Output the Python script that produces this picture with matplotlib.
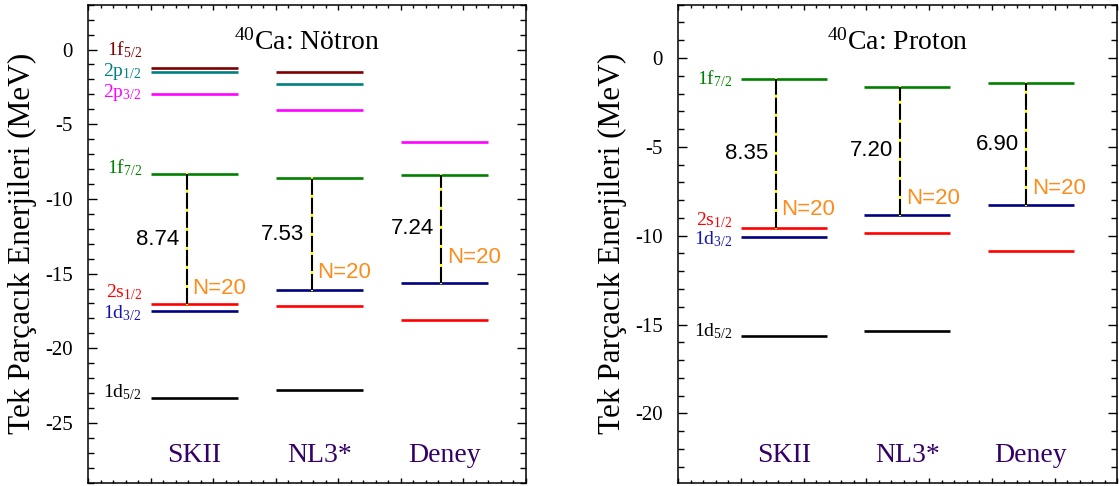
import numpy as np
import matplotlib.pyplot as plt
from matplotlib.ticker import MultipleLocator
import matplotlib.transforms as mtransforms

plt.rcParams['font.family'] = ['Liberation Serif', 'DejaVu Serif']
plt.rcParams['mathtext.fontset'] = 'custom'
plt.rcParams['mathtext.rm'] = 'Liberation Serif'
plt.rcParams['mathtext.it'] = 'Liberation Serif:italic'
plt.rcParams['axes.unicode_minus'] = False

nan = np.nan

models = ['SKII', 'NL3*', 'Deney']
orbitals = ['1f_{5/2}', '2p_{1/2}', '2p_{3/2}', '1f_{7/2}', '2s_{1/2}', '1d_{3/2}', '1d_{5/2}']
level_colors = ['#800000', '#008080', '#ff00ff', '#008000', '#ff0000', '#000080', 'black']
label_colors = ['#800000', '#008080', '#ff00ff', '#008000', '#ff0000', '#1414b4', 'black']

# single-particle energies in MeV, same order as orbitals (nan = not shown)
n_skii = [-1.22, -1.53, -3.00, -8.32, -17.06, -17.50, -23.31]
n_nl3 = [-1.49, -2.33, -4.07, -8.60, -17.19, -16.13, -22.81]
n_deney = [nan, nan, -6.21, -8.38, -18.09, -15.62, nan]

p_skii = [nan, nan, nan, -1.20, -9.55, -10.07, -15.64]
p_nl3 = [nan, nan, nan, -1.62, -9.87, -8.82, -15.35]
p_deney = [nan, nan, nan, -1.39, -10.88, -8.29, nan]

yticks_n = [0, -5, -10, -15, -20, -25]
yticks_p = [0, -5, -10, -15, -20]

# layout for each panel
panels = [
    dict(levels=[n_skii, n_nl3, n_deney], title=r'$^{40}$Ca: Nötron', ylim=(-29, 3),
         yticks=yticks_n, starts=[1.0, 3.0, 5.0], width=1.4, gapx=[0.58, 0.58, 0.65],
         label_dy=[0.85, -0.24, -0.2, 0.0, 0.5, -0.5, 0.0], n20_dy=[0.66, 0.81, 1.35],
         rect=[88 / 1119, 1 - 482.7 / 486, 437.7 / 1119, 478 / 486]),
    dict(levels=[p_skii, p_nl3, p_deney], title=r'$^{40}$Ca: Proton', ylim=(-23.9, 3),
         yticks=yticks_p, starts=[1.0, 2.97, 4.94], width=1.37, gapx=[0.56, 0.57, 0.61],
         label_dy=[0, 0, 0, -0.3, 0.15, -0.4, 0.0], n20_dy=[0.72, 0.6, 0.62],
         rect=[678 / 1119, 1 - 482.7 / 486, 439.3 / 1119, 478 / 486]),
]

fig = plt.figure(figsize=(11.19, 4.86), dpi=100)

for p in panels:
    ax = fig.add_axes(p['rect'])
    ax.set_xlim(0, 7)
    ax.set_ylim(*p['ylim'])

    for m, (name, lev) in enumerate(zip(models, p['levels'])):
        x0 = p['starts'][m]
        x1 = x0 + p['width']
        for k, e in enumerate(lev):
            if np.isnan(e):
                continue
            ax.hlines(e, x0, x1, color=level_colors[k], lw=1.9)
            if m == 0:
                ax.text(0.86, e + p['label_dy'][k], r'$\mathrm{' + orbitals[k] + '}$',
                        color=label_colors[k], fontsize=14, ha='right', va='baseline')

        # N=20 shell gap: 1f7/2 down to the last filled level
        upper = lev[3]
        lower = max(lev[4], lev[5])
        gx = x0 + p['gapx'][m]
        ax.plot([gx, gx], [lower, upper], color='yellow', lw=1.5)
        ax.plot([gx, gx], [lower, upper], color='black', lw=1.5, dashes=(7.7, 1.44))
        ax.text(gx - 0.12, (upper + lower) / 2, '%.2f' % (upper - lower),
                family='Liberation Sans', fontsize=16, ha='right', va='center')
        ax.text(gx + 0.09, lower + p['n20_dy'][m], 'N=20', color='#ff8c1a',
                family='Liberation Sans', fontsize=16, ha='left', va='baseline')

        trans = mtransforms.blended_transform_factory(ax.transData, ax.transAxes)
        ax.text(x0 + p['width'] / 2, 0.056, name, transform=trans, color='#330066',
                fontsize=20, ha='center', va='center')

    ax.text(0.5, 0.907, p['title'], transform=ax.transAxes, ha='center',
            va='baseline', fontsize=20)

    ax.set_yticks(p['yticks'])
    ax.set_yticklabels([str(t) for t in p['yticks']])
    ax.yaxis.set_minor_locator(MultipleLocator(1))
    ax.xaxis.set_major_locator(MultipleLocator(1))
    ax.xaxis.set_minor_locator(MultipleLocator(0.2))
    ax.tick_params(axis='y', which='both', direction='in', left=True, right=True,
                   labelsize=15, pad=11, width=1)
    ax.tick_params(axis='y', which='major', length=6.5)
    ax.tick_params(axis='y', which='minor', length=4)
    ax.tick_params(axis='x', which='both', direction='in', top=True, bottom=True,
                   labelbottom=False, width=1)
    ax.tick_params(axis='x', which='major', length=3.5)
    ax.tick_params(axis='x', which='minor', length=2)
    for s in ax.spines.values():
        s.set_linewidth(1.1)
    ax.set_ylabel('Tek Parçacık Enerjileri (MeV)', fontsize=22.5, labelpad=6)

fig.savefig('out.png', dpi=100)
